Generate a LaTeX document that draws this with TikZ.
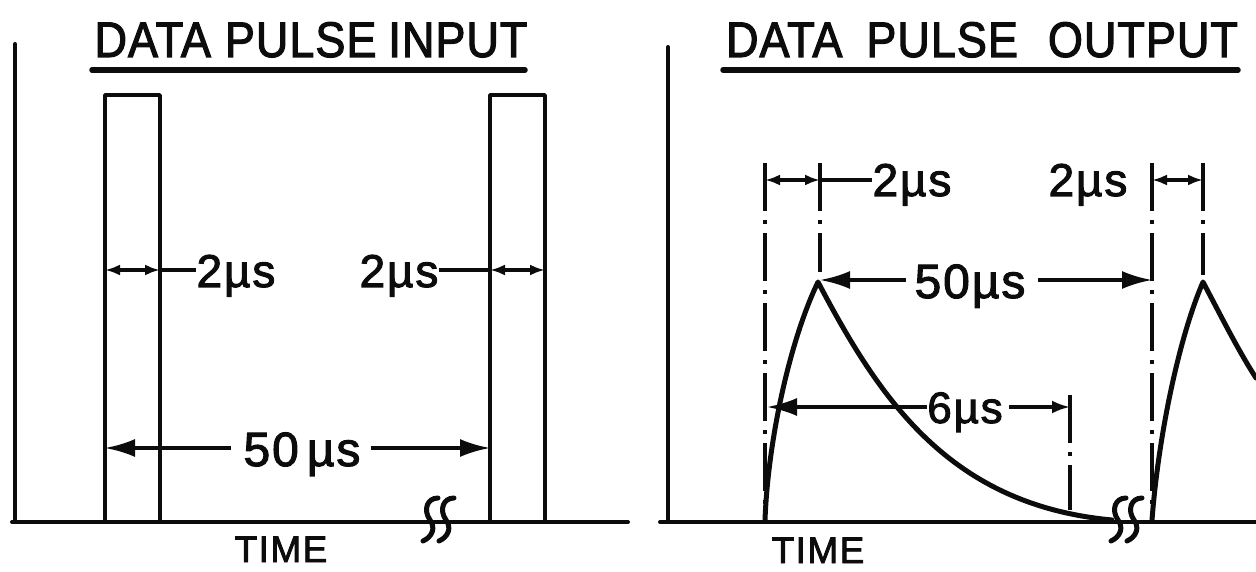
\documentclass[tikz,border=0pt]{standalone}
\usepackage{fontspec}
\setmainfont{Liberation Sans}
\newfontfamily\letterfont[FakeBold=2.2,LetterSpace=4]{Liberation Sans}
\newfontfamily\titlefont[FakeStretch=0.9,FakeBold=2.2,LetterSpace=2]{Liberation Sans}
\usetikzlibrary{arrows.meta, positioning, calc}
\definecolor{inkdark}{RGB}{12,12,12}
\tikzset{
  axisline/.style={line width=4pt, color=inkdark, line cap=round},
  pulseline/.style={line width=3.8pt, color=inkdark, line join=round},
  curveline/.style={line width=5pt, color=inkdark, line cap=round, line join=round},
  dashdot/.style={line width=3.5pt, color=inkdark, dash pattern=on 48pt off 9pt on 4pt off 9pt},
  bigarrow/.style={-{Latex[length=30pt,width=18pt]}, line width=3.2pt, color=inkdark},
  midarrow/.style={-{Latex[length=18pt,width=13pt]}, line width=3.2pt, color=inkdark},
  twoarrow/.style={{Latex[length=15pt,width=11pt]}-{Latex[length=15pt,width=11pt]}, line width=3.2pt, color=inkdark},
  leader/.style={line width=3.2pt, color=inkdark},
  underline/.style={line width=5.5pt, color=inkdark, line cap=round},
  brk/.style={line width=5pt, color=inkdark, line cap=round},
  lbl/.style={font=\letterfont\fontsize{46}{50}\selectfont, inner sep=0pt, color=inkdark, anchor=base},
  ttl/.style={font=\titlefont\fontsize{50}{54}\selectfont, inner sep=0pt, color=inkdark, anchor=base},
  timelbl/.style={font=\letterfont\fontsize{37}{40}\selectfont, inner sep=0pt, color=inkdark, anchor=base}
}

\begin{document}
\begin{tikzpicture}[x=1pt, y=-1pt]
  \useasboundingbox (0,0) rectangle (1256,572);

  % ---------------- left: input pulses
  \node[ttl] (inTitle) at (311,57) {DATA\hspace{14pt}PULSE\hspace{12pt}INPUT};
  \draw[underline] (92,70) -- (525,70);

  \draw[axisline] (15,44) -- (15,522);
  \draw[axisline] (12,522) -- (628,522);

  \draw[pulseline] (105,522) -- (105,95) -- (160,95) -- (160,522);
  \draw[pulseline] (490,522) -- (490,95) -- (545,95) -- (545,522);

  % break
  \foreach \bx in {424,440}
    \draw[brk] (\bx+14,498) .. controls (\bx+3,498) and (\bx-1,510) .. (\bx+6,520)
      .. controls (\bx+12,528) and (\bx+8,537) .. (\bx-1,541);

  % widths
  \coordinate (inA) at (105,270);
  \coordinate (inB) at (160,270);
  \coordinate (inC) at (490,270);
  \coordinate (inD) at (545,270);
  \node[lbl] (in2a) at (236,287) {2µs};
  \node[lbl] (in2b) at (399,287) {2µs};
  \draw[twoarrow] (inA) -- (inB);
  \draw[leader] (inB) -- (in2a.west |- inB);
  \draw[twoarrow] (inC) -- (inD);
  \draw[leader] (in2b.east |- inC) -- (inC);

  % period
  \coordinate (inP) at (105,448);
  \coordinate (inQ) at (490,448);
  \node[lbl, font=\letterfont\fontsize{48}{52}\selectfont] (in50) at (302,466) {50\,µs};
  \draw[bigarrow] ([xshift=-12pt]in50.west |- inP) -- (inP);
  \draw[bigarrow] ([xshift=10pt]in50.east |- inQ) -- (inQ);

  \node[timelbl] (inTime) at (281,562) {TIME};

  % ---------------- right: output pulses
  \node[ttl] (outTitle) at (982,57) {DATA\hspace{24pt}PULSE\hspace{30pt}OUTPUT};
  \draw[underline] (723,70) -- (1238,70);

  \draw[axisline] (668,47) -- (668,522);
  \draw[axisline] (660,522) -- (1256,522);

  % reference lines
  \draw[dashdot] (765,163) -- (765,520);
  \draw[dashdot] (820,163) -- (820,272);
  \draw[dashdot] (1152,163) -- (1152,520);
  \draw[dashdot] (1203,163) -- (1203,275);
  \draw[dashdot] (1070,395) -- (1070,510);

  % pulse shapes
  \draw[curveline] (765,520) .. controls (768,440) and (790,340) .. (818,282)
    .. controls (880,400) and (950,505) .. (1112,520);
  \draw[curveline] (1152,520) .. controls (1158,440) and (1178,340) .. (1203,282)
    .. controls (1222,318) and (1238,350) .. (1256,378);

  % break
  \foreach \bx in {1112,1128}
    \draw[brk] (\bx+14,498) .. controls (\bx+3,498) and (\bx-1,510) .. (\bx+6,520)
      .. controls (\bx+12,528) and (\bx+8,537) .. (\bx-1,541);

  % rise times
  \coordinate (outA) at (765,180);
  \coordinate (outB) at (820,180);
  \coordinate (outC) at (1152,180);
  \coordinate (outD) at (1203,180);
  \node[lbl] (out2a) at (912,196) {2µs};
  \node[lbl] (out2b) at (1088,196) {2µs};
  \draw[twoarrow] (outA) -- (outB);
  \draw[leader] (outB) -- (out2a.west |- outB);
  \draw[twoarrow] (outC) -- (outD);

  % period
  \coordinate (outP) at (820,280);
  \coordinate (outQ) at (1152,280);
  \node[lbl, font=\letterfont\fontsize{48}{52}\selectfont] (out50) at (970,298) {50µs};
  \draw[bigarrow] ([xshift=-8pt]out50.west |- outP) -- (outP);
  \draw[bigarrow] ([xshift=12pt]out50.east |- outQ) -- (outQ);

  % decay
  \coordinate (outS) at (767,407);
  \coordinate (outT) at (1070,407);
  \node[lbl, font=\letterfont\fontsize{44}{48}\selectfont] (out6) at (965,423) {6µs};
  \draw[bigarrow] (out6.west |- outS) -- (outS);
  \draw[midarrow] ([xshift=6pt]out6.east |- outT) -- (outT);

  \node[timelbl] (outTime) at (818,563) {TIME};
\end{tikzpicture}
\end{document}
